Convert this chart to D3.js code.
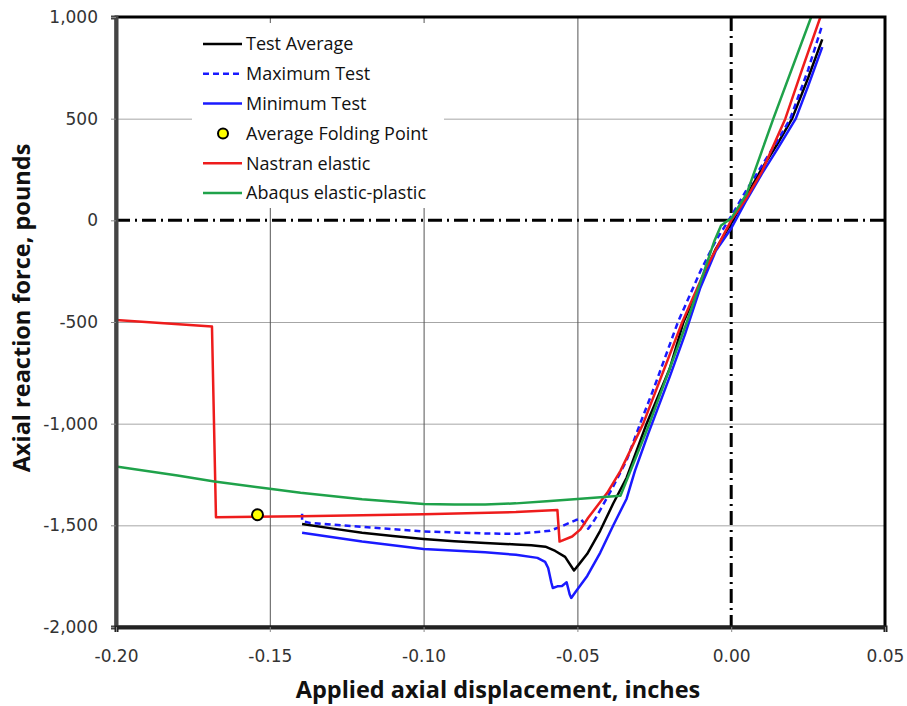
<!DOCTYPE html>
<html>
<head>
<meta charset="utf-8">
<script src="https://cdn.jsdelivr.net/npm/d3@7"></script>
<style>
  body { margin: 0; background: #fff; }
  text { font-family: "Open Sans", "Noto Sans", sans-serif; }
</style>
</head>
<body>
<div id="chart"></div>
<script>
// values: [displacement in, force lb]
const testAverage = [
  [-0.1395,-1493],[-0.13,-1515],[-0.12,-1537],[-0.11,-1553],[-0.10,-1567],[-0.09,-1578],
  [-0.08,-1587],[-0.07,-1594],[-0.065,-1598],[-0.0604,-1605],[-0.0572,-1626],[-0.054,-1655],
  [-0.0511,-1722],[-0.0495,-1692],[-0.0468,-1640],[-0.0426,-1527],[-0.0384,-1394],[-0.034,-1266],
  [-0.0275,-1000],[-0.02,-730],[-0.0155,-500],[-0.01,-310],[-0.005,-140],[0,-15],
  [0.005,120],[0.01,255],[0.015,375],[0.0198,500],[0.025,700],[0.0296,890]
];
const maximumTest = [
  [-0.1395,-1443],[-0.1395,-1478],[-0.137,-1488],[-0.12,-1507],[-0.10,-1530],[-0.08,-1540],
  [-0.07,-1542],[-0.0589,-1527],[-0.0547,-1502],[-0.0505,-1474],[-0.049,-1468],[-0.0475,-1495],
  [-0.0465,-1517],[-0.0445,-1475],[-0.0426,-1425],[-0.0384,-1310],[-0.034,-1180],[-0.0296,-1000],
  [-0.025,-820],[-0.0173,-500],[-0.01,-250],[-0.005,-100],[0,20],[0.005,150],
  [0.01,270],[0.015,390],[0.0192,500],[0.025,740],[0.0293,946]
];
const minimumTest = [
  [-0.1395,-1537],[-0.12,-1580],[-0.10,-1616],[-0.08,-1632],[-0.07,-1645],[-0.063,-1660],
  [-0.0605,-1680],[-0.0595,-1710],[-0.0585,-1780],[-0.058,-1808],[-0.0565,-1800],[-0.055,-1798],
  [-0.0535,-1780],[-0.0525,-1840],[-0.052,-1857],[-0.0505,-1825],[-0.0468,-1749],[-0.0426,-1635],
  [-0.0384,-1502],[-0.034,-1369],[-0.0313,-1232],[-0.027,-1050],[-0.02,-770],[-0.015,-560],
  [-0.01,-330],[-0.005,-150],[0,-40],[0.005,100],[0.01,230],[0.015,350],
  [0.021,500],[0.025,660],[0.0296,852]
];
const nastranElastic = [
  [-0.2,-490],[-0.1688,-522],[-0.1675,-1460],[-0.14,-1455],[-0.10,-1445],[-0.07,-1435],
  [-0.0565,-1425],[-0.0558,-1580],[-0.0517,-1555],[-0.049,-1520],[-0.0465,-1463],[-0.0403,-1340],
  [-0.036,-1232],[-0.0286,-1000],[-0.0159,-500],[-0.008,-230],[0,0],[0.005,110],
  [0.01,240],[0.0176,500],[0.023,740],[0.029,1000]
];
const abaqusElasticPlastic = [
  [-0.2,-1210],[-0.18,-1255],[-0.168,-1284],[-0.15,-1320],[-0.14,-1340],[-0.12,-1372],
  [-0.10,-1395],[-0.09,-1398],[-0.08,-1397],[-0.07,-1392],[-0.06,-1382],[-0.05,-1370],
  [-0.036,-1355],[-0.0266,-1000],[-0.0144,-500],[-0.0054,-99],[-0.0033,-25],[0,10],
  [0.005,130],[0.0137,500],[0.026,1000]
];
const foldingPoint = [[-0.154,-1448]];

const xTicks = [-0.20,-0.15,-0.10,-0.05,0.00,0.05];
const yTicks = [-2000,-1500,-1000,-500,0,500,1000];

const series = [
  {name: "Test Average", data: testAverage, color: "#000000", dash: null},
  {name: "Maximum Test", data: maximumTest, color: "#1a1aff", dash: "6,4"},
  {name: "Minimum Test", data: minimumTest, color: "#1a1aff", dash: null},
  {name: "Average Folding Point", point: true},
  {name: "Nastran elastic", data: nastranElastic, color: "#ee1c1c", dash: null},
  {name: "Abaqus elastic-plastic", data: abaqusElasticPlastic, color: "#1fa24a", dash: null}
];

const width = 907, height = 706;
const m = {left: 116, right: 885, top: 17, bottom: 627};

const loc = d3.formatLocale({decimal: ".", thousands: ",", grouping: [3], currency: ["$", ""], minus: "-"});
const fy = loc.format(",");
const fx = loc.format(".2f");

const x = d3.scaleLinear().domain([-0.2, 0.05]).range([m.left, m.right]);
const y = d3.scaleLinear().domain([-2000, 1000]).range([m.bottom, m.top]);

const svg = d3.select("#chart").append("svg")
    .attr("width", width).attr("height", height);

svg.append("defs").append("clipPath").attr("id", "plot")
  .append("rect").attr("x", m.left).attr("y", m.top)
    .attr("width", m.right - m.left).attr("height", m.bottom - m.top);

// grid
svg.append("g").selectAll("line")
  .data(yTicks.filter(d => d != 0 && d != 1000 && d != -2000))
  .join("line")
    .attr("x1", m.left).attr("x2", m.right)
    .attr("y1", d => y(d) + 0.5).attr("y2", d => y(d) + 0.5)
    .attr("stroke", "#a6a6a6");

svg.append("g").selectAll("line")
  .data(xTicks.filter(d => d != 0 && d != -0.2 && d != 0.05))
  .join("line")
    .attr("x1", d => x(d) + 0.5).attr("x2", d => x(d) + 0.5)
    .attr("y1", m.top).attr("y2", m.bottom)
    .attr("stroke", "#555");

// zero lines, dash-dot
svg.append("line")
  .attr("x1", m.left).attr("x2", m.right).attr("y1", y(0)).attr("y2", y(0))
  .attr("stroke", "#000").attr("stroke-width", 3).attr("stroke-dasharray", "14,5,2,5");
svg.append("line")
  .attr("x1", x(0)).attr("x2", x(0)).attr("y1", m.top).attr("y2", m.bottom)
  .attr("stroke", "#000").attr("stroke-width", 3).attr("stroke-dasharray", "14,5,2,5");

// legend box covers the grid
svg.append("rect")
  .attr("x", 192).attr("y", 23).attr("width", 252).attr("height", 185)
  .attr("fill", "#fff");

const line = d3.line().x(d => x(d[0])).y(d => y(d[1]));

const gLines = svg.append("g").attr("clip-path", "url(#plot)");
gLines.selectAll("path")
  .data(series.filter(s => !s.point))
  .join("path")
    .attr("d", d => line(d.data))
    .attr("fill", "none")
    .attr("stroke", d => d.color)
    .attr("stroke-width", 2.5)
    .attr("stroke-dasharray", d => d.dash)
    .attr("stroke-linejoin", "round");

svg.append("g").selectAll("circle")
  .data(foldingPoint)
  .join("circle")
    .attr("cx", d => x(d[0])).attr("cy", d => y(d[1]))
    .attr("r", 5.5)
    .attr("fill", "#ffff00").attr("stroke", "#000").attr("stroke-width", 2);

// frame
svg.append("rect")
  .attr("x", m.left).attr("y", m.top).attr("width", m.right - m.left).attr("height", m.bottom - m.top)
  .attr("fill", "none").attr("stroke", "#000").attr("stroke-width", 3);

// axes
const gy = svg.append("g").attr("transform", `translate(${m.left},0)`)
  .call(d3.axisLeft(y).tickValues(yTicks).tickFormat(fy).tickSize(5).tickPadding(13));
gy.select(".domain").attr("stroke", "#444").attr("stroke-width", 4);
gy.selectAll(".tick line").attr("stroke", "#888");
gy.selectAll("text").attr("font-size", 17).attr("fill", "#333")
  .style("font-family", '"DejaVu Sans", sans-serif');

const gx = svg.append("g").attr("transform", `translate(0,${m.bottom})`)
  .call(d3.axisBottom(x).tickValues(xTicks).tickFormat(fx).tickSize(5).tickPadding(18));
gx.select(".domain").attr("stroke", "#222").attr("stroke-width", 4);
gx.selectAll(".tick line").attr("stroke", "#888");
gx.selectAll("text").attr("font-size", 17).attr("fill", "#333")
  .style("font-family", '"DejaVu Sans", sans-serif');

// titles
svg.append("text")
  .attr("x", 498).attr("y", 698)
  .attr("text-anchor", "middle")
  .attr("font-size", 23.5).attr("font-weight", "bold").attr("fill", "#111")
  .text("Applied axial displacement, inches");

svg.append("text")
  .attr("transform", "translate(30,308) rotate(-90)")
  .attr("text-anchor", "middle")
  .attr("font-size", 23.5).attr("font-weight", "bold").attr("fill", "#111")
  .text("Axial reaction force, pounds");

// legend
const legend = svg.append("g").selectAll("g")
  .data(series)
  .join("g")
    .attr("transform", (d, i) => `translate(203,${44 + i * 29.8})`);

legend.filter(d => !d.point).append("line")
  .attr("x1", 0).attr("x2", 39)
  .attr("stroke", d => d.color).attr("stroke-width", 2.5)
  .attr("stroke-dasharray", d => d.dash);

legend.filter(d => d.point).append("circle")
  .attr("cx", 20).attr("r", 5)
  .attr("fill", "#ffff00").attr("stroke", "#000").attr("stroke-width", 2);

legend.append("text")
  .attr("x", 43).attr("dy", "0.35em")
  .attr("font-size", 18).attr("fill", "#111")
  .text(d => d.name);
</script>
</body>
</html>
